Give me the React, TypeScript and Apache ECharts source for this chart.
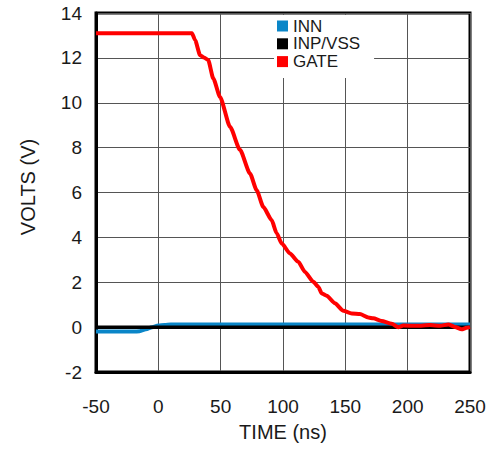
import React, { useEffect, useRef } from "react";
import * as echarts from "echarts";

const xTicks = [-50, 0, 50, 100, 150, 200, 250];
const yTicks = [-2, 0, 2, 4, 6, 8, 10, 12, 14];

const gateTime = [-50, 27, 29.5, 33.5, 36.6, 40, 44.1, 49.5, 57.5, 65.5, 73.5, 78.9, 84.2, 90.9, 94.9, 99, 105.6, 112.3, 117.6, 124.3, 128.3, 131, 135, 141.7, 148.4, 155.1, 161.7, 168.4, 172.4, 179.1, 187.2, 192.5, 196.5, 207.2, 217.9, 226, 232.6, 237.9, 243.3, 247.3, 250];
const gateVolts = [13.1, 13.1, 12.79, 12.12, 12.02, 11.9, 11.08, 10.26, 8.93, 7.9, 6.85, 6.1, 5.36, 4.77, 4.18, 3.73, 3.28, 2.91, 2.46, 2.02, 1.8, 1.5, 1.4, 1.06, 0.73, 0.61, 0.58, 0.43, 0.39, 0.27, 0.15, 0.0, 0.07, 0.06, 0.09, 0.06, 0.12, 0.01, -0.1, -0.03, 0];

const innTime = [-50, -20, -15, -10, -5, 0, 5, 10, 20, 250];
const innVolts = [-0.2, -0.2, -0.18, -0.1, 0.0, 0.07, 0.1, 0.12, 0.12, 0.12];

const inpTime = [-50, 250];
const inpVolts = [0, 0];

const FONT = "'Liberation Sans', Arial, Helvetica, sans-serif";
const TEXT = "#1a1a1a";

const zip = (a: number[], b: number[]) => a.map((v, i) => [v, b[i]]);

export default function App() {
  const ref = useRef<HTMLDivElement>(null);
  useEffect(() => {
    if (!ref.current) return;
    const chart = echarts.init(ref.current, null, { renderer: "svg" });
    chart.setOption({
      animation: false,
      backgroundColor: "#fff",
      textStyle: { fontFamily: FONT },
      grid: {
        left: 96,
        right: 29,
        top: 13,
        bottom: 77,
        show: true,
        borderColor: "#000",
        borderWidth: 3,
        backgroundColor: "transparent",
      },
      legend: {
        orient: "vertical",
        left: 274,
        top: 15,
        padding: [2.5, 14, 8, 3],
        backgroundColor: "#fff",
        icon: "rect",
        itemWidth: 11,
        itemHeight: 11,
        itemGap: 0.8,
        textStyle: { fontSize: 17, color: TEXT, fontFamily: FONT },
        data: ["INN", "INP/VSS", "GATE"],
      },
      xAxis: {
        type: "value",
        min: xTicks[0],
        max: xTicks[xTicks.length - 1],
        interval: 50,
        name: "TIME (ns)",
        nameLocation: "middle",
        nameGap: 50,
        nameTextStyle: { fontSize: 20, color: TEXT, fontFamily: FONT },
        axisLine: { show: true, onZero: false, lineStyle: { color: "#000", width: 3 } },
        axisTick: { show: false },
        axisLabel: { fontSize: 19, color: TEXT, margin: 25, fontFamily: FONT },
        splitLine: { show: true, lineStyle: { color: "#555", width: 1 } },
      },
      yAxis: {
        type: "value",
        min: yTicks[0],
        max: yTicks[yTicks.length - 1],
        interval: 2,
        name: "VOLTS (V)",
        nameLocation: "middle",
        nameGap: 58,
        nameTextStyle: { fontSize: 20, color: TEXT, fontFamily: FONT, padding: [0, 0, 0, 11] },
        axisLine: { show: true, onZero: false, lineStyle: { color: "#000", width: 3 } },
        axisTick: { show: false },
        axisLabel: { fontSize: 19, color: TEXT, margin: 14, fontFamily: FONT },
        splitLine: { show: true, lineStyle: { color: "#555", width: 1 } },
      },
      series: [
        {
          name: "INN",
          type: "line",
          data: zip(innTime, innVolts),
          showSymbol: false,
          symbol: "none",
          smooth: 0.3,
          smoothMonotone: "x",
          lineStyle: { color: "#0a86c8", width: 4 },
          itemStyle: { color: "#0a86c8" },
          z: 3,
        },
        {
          name: "INP/VSS",
          type: "line",
          data: zip(inpTime, inpVolts),
          showSymbol: false,
          symbol: "none",
          lineStyle: { color: "#000", width: 3.5 },
          itemStyle: { color: "#000" },
          z: 4,
        },
        {
          name: "GATE",
          type: "line",
          data: zip(gateTime, gateVolts),
          showSymbol: false,
          symbol: "none",
          smooth: 0.2,
          smoothMonotone: "x",
          lineStyle: { color: "#ff0000", width: 4 },
          itemStyle: { color: "#ff0000" },
          z: 5,
        },
      ],
    });
    return () => chart.dispose();
  }, []);
  return (
    <div
      ref={ref}
      style={{ position: "fixed", left: 0, top: 0, width: 499, height: 449 }}
    />
  );
}
